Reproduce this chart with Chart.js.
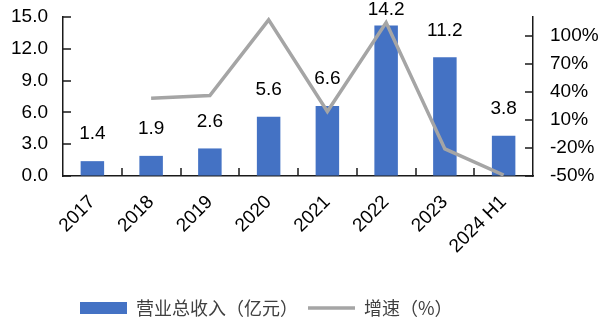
<!DOCTYPE html>
<html lang="zh">

<head>
    <meta charset="UTF-8" />
    <title>营业总收入</title>
    <script src="https://cdn.jsdelivr.net/npm/chart.js"></script>
    <style>
        html, body {
            margin: 0;
            padding: 0;
            background: #fff;
        }

        .wrap {
            width: 600px;
            height: 323px;
        }
    </style>
</head>

<body>
    <div class="wrap">
        <canvas id="revChart" width="600" height="323"></canvas>
    </div>

    <script>
        const years = ['2017', '2018', '2019', '2020', '2021', '2022', '2023', '2024 H1'];
        const revenue = [1.4, 1.9, 2.6, 5.6, 6.6, 14.2, 11.2, 3.8];   // 亿元
        const growth = [null, 33, 36, 117, 19, 114, -21, -49];        // %
        const revTicks = [0, 3, 6, 9, 12, 15];
        const growthTicks = [-50, -20, 10, 40, 70, 100];

        const numFont = { family: "'Liberation Sans', Arial, sans-serif", size: 19 };
        const axisColor = '#1a1a1a';

        // value labels above the bars
        const barLabels = {
            id: 'barLabels',
            afterDatasetsDraw(chart) {
                const meta = chart.getDatasetMeta(0);
                const ctx = chart.ctx;
                ctx.save();
                ctx.font = "19px 'Liberation Sans', Arial, sans-serif";
                ctx.fillStyle = '#000';
                ctx.textAlign = 'center';
                ctx.textBaseline = 'middle';
                meta.data.forEach((bar, i) => {
                    const y = Math.max(bar.y - 27, 10);
                    ctx.fillText(revenue[i].toFixed(1), bar.x, y);
                });
                ctx.restore();
            }
        };

        // short tick marks pointing into the plot area
        const innerTicks = {
            id: 'innerTicks',
            afterDraw(chart) {
                const { ctx, chartArea: area, scales } = chart;
                const len = 8;
                ctx.save();
                ctx.strokeStyle = axisColor;
                ctx.lineWidth = 1.5;
                ctx.beginPath();
                scales.y.ticks.forEach(t => {
                    const y = Math.round(scales.y.getPixelForValue(t.value));
                    ctx.moveTo(area.left, y);
                    ctx.lineTo(area.left + len, y);
                });
                scales.y1.ticks.forEach(t => {
                    const y = Math.round(scales.y1.getPixelForValue(t.value));
                    ctx.moveTo(area.right, y);
                    ctx.lineTo(area.right - len, y);
                });
                for (let i = 1; i < years.length; i++) {
                    const x = Math.round(scales.x.getPixelForValue(i - 0.5));
                    ctx.moveTo(x, area.bottom);
                    ctx.lineTo(x, area.bottom - len);
                }
                ctx.stroke();
                ctx.restore();
            }
        };

        // legend starts a bit left of centre
        const legendShift = {
            id: 'legendShift',
            afterLayout(chart) {
                chart.legend.left = 70;
            }
        };

        const noPad = s => { s.paddingTop = 0; s.paddingBottom = 0; };

        new Chart(document.getElementById('revChart'), {
            data: {
                labels: years,
                datasets: [{
                    type: 'bar',
                    label: '营业总收入（亿元）',
                    data: revenue,
                    backgroundColor: '#4472C4',
                    barPercentage: 0.4,
                    categoryPercentage: 1,
                    yAxisID: 'y',
                    pointStyle: 'rect',
                    order: 1
                }, {
                    type: 'line',
                    label: '增速（%）',
                    data: growth,
                    borderColor: '#A5A5A5',
                    backgroundColor: '#A5A5A5',
                    borderWidth: 3.5,
                    pointRadius: 0,
                    tension: 0,
                    yAxisID: 'y1',
                    pointStyle: 'line',
                    order: 0
                }]
            },
            options: {
                responsive: false,
                animation: false,
                layout: { padding: { top: 17, left: 0, right: 0, bottom: -4 } },
                plugins: {
                    tooltip: { enabled: false },
                    legend: {
                        position: 'bottom',
                        align: 'start',
                        labels: {
                            usePointStyle: true,
                            pointStyleWidth: 47,
                            boxHeight: 12,
                            padding: 10,
                            color: '#404040',
                            font: { family: "'Noto Sans CJK SC', sans-serif", size: 18 },
                            sort: (a, b) => a.datasetIndex - b.datasetIndex
                        }
                    }
                },
                scales: {
                    x: {
                        offset: true,
                        grid: { display: true, drawOnChartArea: false, drawTicks: false },
                        border: { color: axisColor, width: 1.5 },
                        ticks: {
                            color: '#000',
                            font: numFont,
                            maxRotation: 45,
                            minRotation: 45,
                            autoSkip: false,
                            padding: 15
                        },
                        afterFit: s => { s.height = 113; }
                    },
                    y: {
                        position: 'left',
                        min: 0,
                        max: 15,
                        grid: { drawOnChartArea: false, drawTicks: false },
                        border: { color: axisColor, width: 1.5 },
                        afterBuildTicks: s => { s.ticks = revTicks.map(v => ({ value: v })); },
                        ticks: {
                            color: '#000',
                            font: numFont,
                            padding: 15,
                            callback: v => v.toFixed(1)
                        },
                        afterFit: s => { s.width = 63; noPad(s); }
                    },
                    y1: {
                        position: 'right',
                        min: -50,
                        max: 120,
                        grid: { drawOnChartArea: false, drawTicks: false },
                        border: { color: axisColor, width: 1.5 },
                        afterBuildTicks: s => { s.ticks = growthTicks.map(v => ({ value: v })); },
                        ticks: {
                            color: '#000',
                            font: numFont,
                            padding: 17,
                            callback: v => v + '%'
                        },
                        afterFit: s => { s.width = 67; noPad(s); }
                    }
                }
            },
            plugins: [barLabels, innerTicks, legendShift]
        });
    </script>
</body>

</html>
